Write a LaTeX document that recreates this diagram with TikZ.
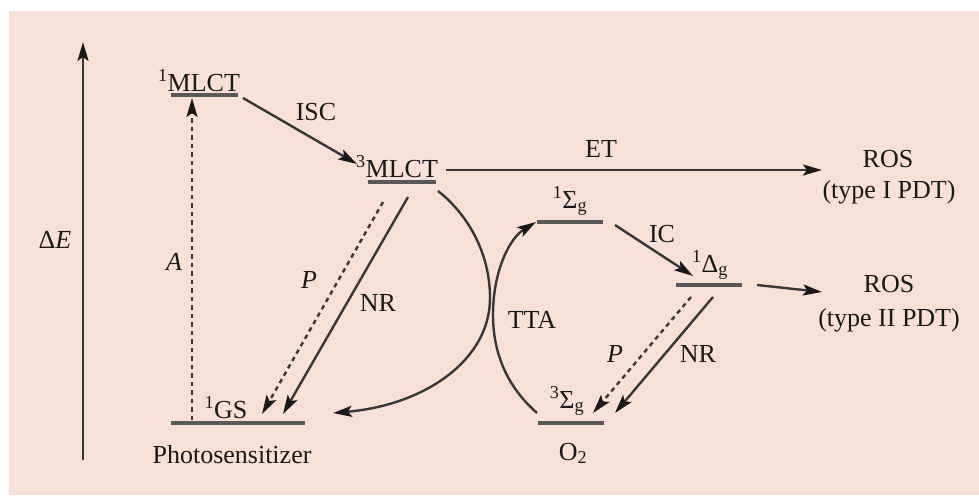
\documentclass[tikz,border=0pt]{standalone}
\usepackage{fontspec}
\setmainfont{Liberation Serif}
\usetikzlibrary{arrows.meta}
\definecolor{bg}{RGB}{249,224,214}
\definecolor{lev}{RGB}{88,88,88}
\definecolor{arr}{RGB}{55,55,55}
\definecolor{txt}{RGB}{25,25,25}
\begin{document}
\begin{tikzpicture}[x=1pt,y=-1pt,
  level/.style={draw=lev,line width=3.2pt},
  conn/.style={draw=arr,line width=2.4pt,-{Stealth[length=19pt,width=11pt,inset=4pt,color=txt]}},
  dconn/.style={conn,dash pattern=on 4.5pt off 4pt},
  lbl/.style={anchor=base,text=txt,font=\fontsize{26}{30}\selectfont,inner sep=0pt},
]
\useasboundingbox (0,0) rectangle (979,495);
\fill[bg] (9,11) rectangle (979,495);

% energy levels
\coordinate (m1L) at (171,95);  \coordinate (m1R) at (238,95);
\coordinate (m3L) at (368,182); \coordinate (m3R) at (436,182);
\coordinate (gsL) at (171,423); \coordinate (gsR) at (305,423);
\coordinate (s1L) at (537,222); \coordinate (s1R) at (603,222);
\coordinate (dL) at (676,285);  \coordinate (dR) at (742,285);
\coordinate (s3L) at (538,423); \coordinate (s3R) at (604,423);
\draw[level] (m1L) -- (m1R);
\draw[level] (m3L) -- (m3R);
\draw[level] (gsL) -- (gsR);
\draw[level] (s1L) -- (s1R);
\draw[level] (dL) -- (dR);
\draw[level] (s3L) -- (s3R);

% labels
\node[lbl] (m1) at (199,91) {\textsuperscript{1}MLCT};
\node[lbl] (m3) at (397,177) {\textsuperscript{3}MLCT};
\node[lbl] (gs) at (226,418) {\textsuperscript{1}GS};
\node[lbl] (ps) at (232,463) {Photosensitizer};
\node[lbl] (s1) at (570,208) {\textsuperscript{1}Σ\textsubscript{g}};
\node[lbl] (d1) at (710,272) {\textsuperscript{1}Δ\textsubscript{g}};
\node[lbl] (s3) at (567,408) {\textsuperscript{3}Σ\textsubscript{g}};
\node[lbl] (o2) at (573,460) {O\textsubscript{2}};
\node[lbl] (de) at (55,248) {Δ\textit{E}};
\node[lbl] (la) at (174,270) {\textit{A}};
\node[lbl] (lisc) at (316,120) {ISC};
\node[lbl] (let) at (601,157) {ET};
\node[lbl] (lp1) at (309,288) {\textit{P}};
\node[lbl] (lnr1) at (378,311) {NR};
\node[lbl] (ltta) at (532,328) {TTA};
\node[lbl] (lic) at (662,242) {IC};
\node[lbl] (lp2) at (615,362) {\textit{P}};
\node[lbl] (lnr2) at (698,362) {NR};
\node[lbl] (ros1) at (888,167) {ROS};
\node[lbl] (ros1b) at (889,198) {(type I PDT)};
\node[lbl] (ros2) at (889,292) {ROS};
\node[lbl] (ros2b) at (889,326) {(type II PDT)};

% connector end points
\coordinate (eB) at (83,460);   \coordinate (eT) at (83,42);
\coordinate (aB) at (192,420);  \coordinate (aT) at (192,98);
\coordinate (iscS) at (243,98); \coordinate (iscE) at (357,164);
\coordinate (etS) at (446,170); \coordinate (etE) at (822,170);
\coordinate (p1S) at (383,202); \coordinate (p1E) at (262,414);
\coordinate (n1S) at (408,197); \coordinate (n1E) at (283,414);
\coordinate (cS) at (438,191);  \coordinate (cM) at (490,298); \coordinate (cE) at (333,413);
\coordinate (tS) at (537,413);  \coordinate (tM) at (493,315); \coordinate (tE) at (536,222);
\coordinate (icS) at (615,225); \coordinate (icE) at (693,276);
\coordinate (p2S) at (691,297); \coordinate (p2E) at (593,413);
\coordinate (n2S) at (713,297); \coordinate (n2E) at (615,413);
\coordinate (r2S) at (757,285); \coordinate (r2E) at (822,292);

% connectors
\draw[conn] (eB) -- (eT);
\draw[dconn] (aB) -- (aT);
\draw[conn] (iscS) -- (iscE);
\draw[conn] (etS) -- (etE);
\draw[dconn] (p1S) -- (p1E);
\draw[conn] (n1S) -- (n1E);
\draw[conn] (cS) .. controls (465,212) and (490,250) .. (cM)
                 .. controls (490,360) and (425,405) .. (cE);
\draw[conn] (tS) .. controls (505,385) and (493,350) .. (tM)
                 .. controls (493,270) and (510,238) .. (tE);
\draw[conn] (icS) -- (icE);
\draw[dconn] (p2S) -- (p2E);
\draw[conn] (n2S) -- (n2E);
\draw[conn] (r2S) -- (r2E);
\end{tikzpicture}
\end{document}
